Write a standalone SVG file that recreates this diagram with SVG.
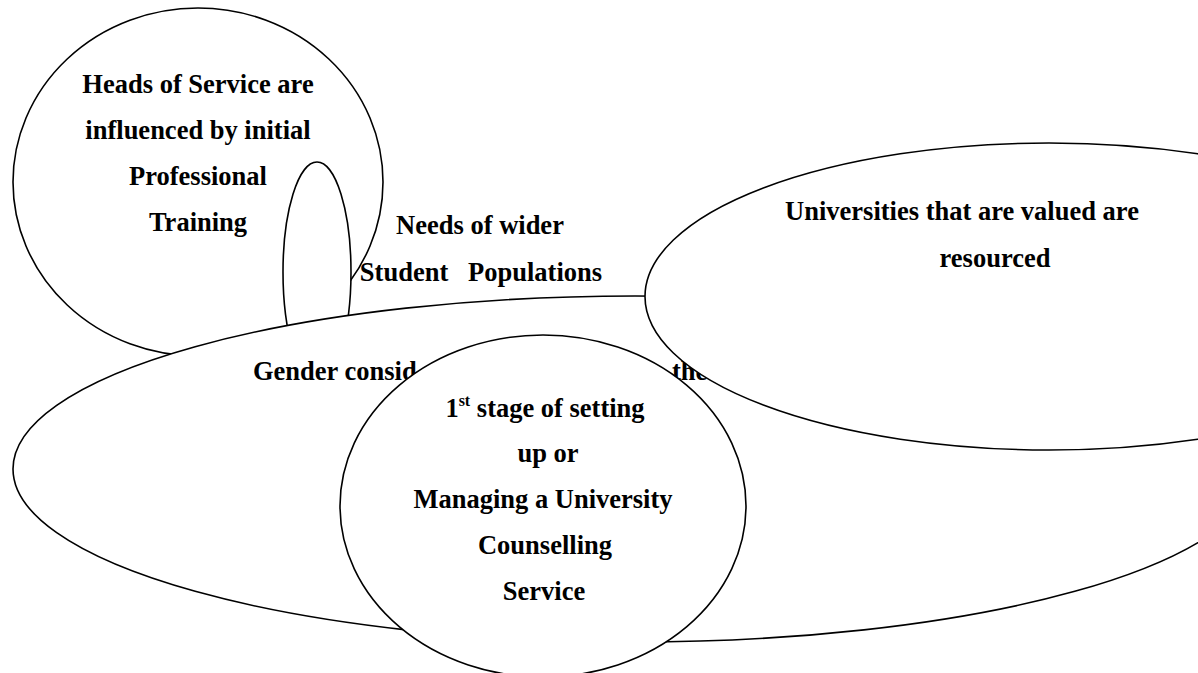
<svg xmlns="http://www.w3.org/2000/svg" width="1198" height="673" viewBox="0 0 1198 673">
  <style>
    .shape { fill: #ffffff; stroke: #000000; stroke-width: 1.6; }
    .label { font-family: "Liberation Serif", "Times New Roman", serif; font-weight: bold; font-size: 26.5px; fill: #000000; }
    .mid { text-anchor: middle; }
    .sup { font-size: 16px; }
  </style>

  <!-- Drawn back to front: each later shape paints over the earlier ones -->
  <g id="heads-of-service">
    <ellipse class="shape" cx="198" cy="182" rx="185" ry="174"/>
    <text class="label mid" x="198" y="93">Heads of Service are</text>
    <text class="label mid" x="198" y="139">influenced by initial</text>
    <text class="label mid" x="198" y="185">Professional</text>
    <text class="label mid" x="198" y="231">Training</text>
  </g>

  <g id="student-needs">
    <ellipse class="shape" cx="317" cy="272" rx="34" ry="110"/>
    <text class="label mid" x="480" y="234">Needs of wider</text>
    <text class="label mid" x="481" y="281" xml:space="preserve">Student   Populations</text>
  </g>

  <g id="gender">
    <ellipse class="shape" cx="635" cy="469" rx="622" ry="173"/>
    <text class="label" x="253" y="380">Gender consid</text>
    <text class="label" x="672" y="380">the</text>
  </g>

  <g id="universities">
    <ellipse class="shape" cx="1049" cy="296.5" rx="404" ry="153.5"/>
    <text class="label mid" x="962" y="220">Universities that are valued are</text>
    <text class="label mid" x="995" y="267">resourced</text>
  </g>

  <g id="counselling-service">
    <ellipse class="shape" cx="543" cy="506" rx="203" ry="171"/>
    <text class="label mid" x="545" y="417">1<tspan class="sup" dy="-11">st</tspan><tspan dy="11"> stage of setting</tspan></text>
    <text class="label mid" x="548" y="462">up or</text>
    <text class="label mid" x="543" y="508">Managing a University</text>
    <text class="label mid" x="545" y="554">Counselling</text>
    <text class="label mid" x="544" y="600">Service</text>
  </g>

  <g id="connectors"/>
</svg>
